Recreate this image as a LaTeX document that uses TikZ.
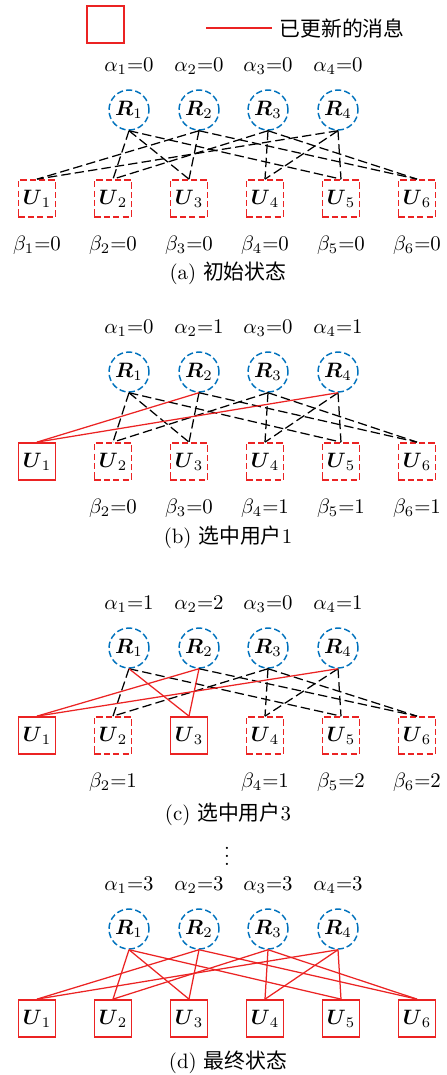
\documentclass[tikz,border=0pt]{standalone}
\usepackage{amsmath,amssymb}
\usepackage{fontspec}
\newfontfamily\cjk{Noto Sans CJK SC}
\usetikzlibrary{positioning}
\definecolor{relayblue}{RGB}{0,114,189}
\definecolor{msgred}{RGB}{235,35,35}

\begin{document}
\begin{tikzpicture}[x=0.48pt,y=-0.48pt,
    relay/.style={circle,draw=relayblue,dash pattern=on 3pt off 1.5pt,
                  line width=0.7pt,minimum size=19.2pt,inner sep=0pt},
    user/.style={draw=msgred,dash pattern=on 3pt off 1.5pt,
                 line width=0.8pt,minimum size=17.8pt,inner sep=0pt},
    picked/.style={user,solid},
    oldmsg/.style={black,dash pattern=on 4.5pt off 2pt,line width=0.6pt},
    newmsg/.style={msgred,line width=0.6pt},
    lbl/.style={inner sep=0pt},
  ]
  \useasboundingbox (0,0) rectangle (446,1075);
  % legend
  \node[picked] (lgbox) at (105.5,24.5) {};
  \coordinate (lgl) at (206,28);
  \coordinate (lgr) at (272,28);
  \draw[newmsg,line width=0.8pt] (lgl) -- (lgr);
  \node[lbl,right=3.4pt of lgr] (lgtxt) {\cjk 已更新的消息};

  % (a) initial state
  \foreach \i/\x/\a in {1/129/0,2/199/0,3/268/0,4/338/0}{
    \node[relay] (Ra\i) at (\x,110) {$\boldsymbol{R}_{\i}$};
    \node[lbl,above=6.7pt of Ra\i] (aa\i) {$\alpha_{\i}{=}\a$};
  }
  \foreach \i/\x/\b in {1/37,2/113,3/189,4/265,5/341,6/417}{
    \node[user] (Ua\i) at (\x,198.5) {$\boldsymbol{U}_{\i}$};
    \node[lbl,below=8.6pt of Ua\i] (ba\i) {$\beta_{\i}{=}0$};
  }
  \foreach \r/\u in {1/2,1/3,1/5,2/1,2/3,2/6,3/2,3/4,3/6,4/1,4/4,4/5}
    \draw[oldmsg] (Ra\r.south) -- (Ua\u.north);
  \node (capa) at (228,273) {(a) {\cjk 初始状态}};

  % (b) user 1 chosen
  \foreach \i/\x/\a in {1/129/0,2/199/1,3/268/0,4/338/1}{
    \node[relay] (Rb\i) at (\x,372) {$\boldsymbol{R}_{\i}$};
    \node[lbl,above=6.7pt of Rb\i] (ab\i) {$\alpha_{\i}{=}\a$};
  }
  \node[picked] (Ub1) at (37,461.5) {$\boldsymbol{U}_{1}$};
  \foreach \i/\x/\b in {2/113/0,3/189/0,4/265/1,5/341/1,6/417/1}{
    \node[user] (Ub\i) at (\x,461.5) {$\boldsymbol{U}_{\i}$};
    \node[lbl,below=8.6pt of Ub\i] (bb\i) {$\beta_{\i}{=}\b$};
  }
  \foreach \r/\u in {1/2,1/3,1/5,2/3,2/6,3/2,3/4,3/6,4/4,4/5}
    \draw[oldmsg] (Rb\r.south) -- (Ub\u.north);
  \draw[newmsg] (Rb2.south) -- (Ub1.north);
  \draw[newmsg] (Rb4.south) -- (Ub1.north);
  \node (capb) at (228,537) {(b) {\cjk 选中用户}1};

  % (c) user 3 chosen
  \foreach \i/\x/\a in {1/129/1,2/199/2,3/268/0,4/338/1}{
    \node[relay] (Rc\i) at (\x,648) {$\boldsymbol{R}_{\i}$};
    \node[lbl,above=6.7pt of Rc\i] (ac\i) {$\alpha_{\i}{=}\a$};
  }
  \node[picked] (Uc1) at (37,735.5) {$\boldsymbol{U}_{1}$};
  \node[picked] (Uc3) at (189,735.5) {$\boldsymbol{U}_{3}$};
  \foreach \i/\x/\b in {2/113/1,4/265/1,5/341/2,6/417/2}{
    \node[user] (Uc\i) at (\x,735.5) {$\boldsymbol{U}_{\i}$};
    \node[lbl,below=8.6pt of Uc\i] (bc\i) {$\beta_{\i}{=}\b$};
  }
  \foreach \r/\u in {1/2,1/5,2/6,3/2,3/4,3/6,4/4,4/5}
    \draw[oldmsg] (Rc\r.south) -- (Uc\u.north);
  \foreach \r/\u in {2/1,4/1,1/3,2/3}
    \draw[newmsg] (Rc\r.south) -- (Uc\u.north);
  \node (capc) at (228,814) {(c) {\cjk 选中用户}3};

  \node (dots) at (227,850) {$\vdots$};

  % (d) final state
  \foreach \i/\x in {1/129,2/199,3/268,4/338}{
    \node[relay] (Rd\i) at (\x,929) {$\boldsymbol{R}_{\i}$};
    \node[lbl,above=6.7pt of Rd\i] (ad\i) {$\alpha_{\i}{=}3$};
  }
  \foreach \i/\x in {1/37,2/113,3/189,4/265,5/341,6/417}
    \node[picked] (Ud\i) at (\x,1018.5) {$\boldsymbol{U}_{\i}$};
  \foreach \r/\u in {1/2,1/3,1/5,2/1,2/3,2/6,3/2,3/4,3/6,4/1,4/4,4/5}
    \draw[newmsg] (Rd\r.south) -- (Ud\u.north);
  \node (capd) at (228,1062) {(d) {\cjk 最终状态}};
\end{tikzpicture}
\end{document}
